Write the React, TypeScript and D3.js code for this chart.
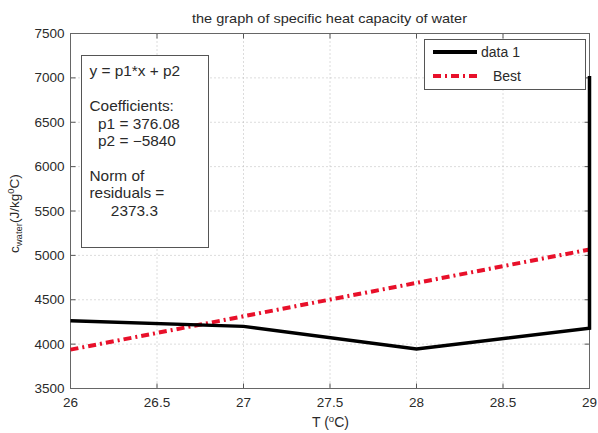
import React from "react";
import * as d3 from "d3";

const dataX = [26, 27, 28, 29, 29];
const dataY = [4262, 4200, 3945, 4180, 7020];
const bestX = [26, 29];
const bestY = [3938, 5066];
const xTicks = [26, 26.5, 27, 27.5, 28, 28.5, 29];
const yTicks = [3500, 4000, 4500, 5000, 5500, 6000, 6500, 7000, 7500];
const fitLines = [
  "y = p1*x + p2",
  "",
  "Coefficients:",
  "  p1 = 376.08",
  "  p2 = \u22125840",
  "",
  "Norm of",
  "residuals =",
  "     2373.3",
];

const W = 598, H = 433;
const L = 70.5, R = 589.5, T = 33.5, B = 388.5;
const FONT = "'Liberation Sans', Arial, sans-serif";

export default function App() {
  const x = d3.scaleLinear().domain([26, 29]).range([L, R]);
  const y = d3.scaleLinear().domain([3500, 7500]).range([B, T]);
  const line = d3.line<number>().x((_, i) => x(dataX[i])).y((d) => y(d));
  const bestLine = d3.line<number>().x((_, i) => x(bestX[i])).y((d) => y(d));
  const gridColor = "#b8b8b8";
  const tickColor = "#555";
  const txt = "#2a2a2a";
  return (
    <svg width={W} height={H} style={{ position: "absolute", left: 0, top: 0, background: "#fff" }} fontFamily={FONT}>
      <rect x={0} y={0} width={W} height={H} fill="#fff" />
      {/* grid */}
      {xTicks.slice(1, -1).map((t) => (
        <line key={"gx" + t} x1={x(t)} x2={x(t)} y1={T} y2={B} stroke={gridColor} strokeWidth={1} strokeDasharray="1,3" />
      ))}
      {yTicks.slice(1, -1).map((t) => (
        <line key={"gy" + t} x1={L} x2={R} y1={y(t)} y2={y(t)} stroke={gridColor} strokeWidth={1} strokeDasharray="1,3" />
      ))}
      {/* ticks */}
      {xTicks.map((t) => (
        <g key={"tx" + t}>
          <line x1={x(t)} x2={x(t)} y1={B} y2={B - 5} stroke={tickColor} />
          <line x1={x(t)} x2={x(t)} y1={T} y2={T + 5} stroke={tickColor} />
          <text x={x(t)} y={407} textAnchor="middle" fontSize={13.5} fill={txt}>{t}</text>
        </g>
      ))}
      {yTicks.map((t) => (
        <g key={"ty" + t}>
          <line x1={L} x2={L + 5} y1={y(t)} y2={y(t)} stroke={tickColor} />
          <line x1={R} x2={R - 5} y1={y(t)} y2={y(t)} stroke={tickColor} />
          <text x={64.5} y={y(t) + 4.5} textAnchor="end" fontSize={13.5} fill={txt}>{t}</text>
        </g>
      ))}
      {/* axes box */}
      <rect x={L} y={T} width={R - L} height={B - T} fill="none" stroke="#666" strokeWidth={1} />
      {/* fit text box */}
      <rect x={81.5} y={55.5} width={127} height={192} fill="#fff" stroke="#555" strokeWidth={1} />
      <g transform="translate(89.5,0) scale(1.1,1)">
        {fitLines.map((s, i) => (
          <text key={"f" + i} x={0} y={76.5 + i * 17.4} fontSize={14} fill={txt} style={{ whiteSpace: "pre" }}>{s}</text>
        ))}
      </g>
      {/* data lines */}
      <path d={bestLine(bestY) || ""} fill="none" stroke="#e8102a" strokeWidth={4} strokeDasharray="8,4,2,4" />
      <path d={line(dataY) || ""} fill="none" stroke="#000" strokeWidth={3.5} strokeLinejoin="miter" />
      {/* legend */}
      <rect x={424.5} y={39.5} width={161} height={50} fill="#fff" stroke="#555" strokeWidth={1} />
      <line x1={433} x2={477} y1={52} y2={52} stroke="#000" strokeWidth={4} />
      <text x={481} y={57} fontSize={14} fill={txt}>data 1</text>
      <line x1={433} x2={477} y1={76} y2={76} stroke="#e8102a" strokeWidth={4} strokeDasharray="8,4,2,4" />
      <text x={493} y={81} fontSize={14} fill={txt}>Best</text>
      {/* title */}
      <text x={192} y={22.5} fontSize={13} fill={txt} textLength={275} lengthAdjust="spacingAndGlyphs">the graph of specific heat capacity of water</text>
      {/* x label */}
      <text x={312} y={427} fontSize={14} fill={txt}>
        T (<tspan dy={-5} fontSize={9.5}>o</tspan><tspan dy={5}>C)</tspan>
      </text>
      {/* y label */}
      <text transform="translate(19,253) rotate(-90)" fontSize={13.5} fill={txt}>
        c<tspan dy={3} fontSize={9.5}>water</tspan><tspan dy={-3}>(J/kg</tspan><tspan dy={-5} fontSize={9.5}>0</tspan><tspan dy={5}>C)</tspan>
      </text>
    </svg>
  );
}
